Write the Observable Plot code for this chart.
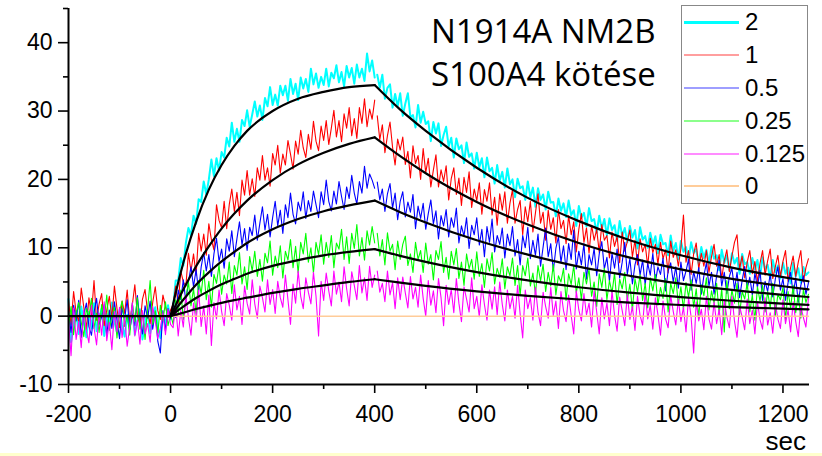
<!DOCTYPE html>
<html>
<head>
<meta charset="utf-8">
<script src="https://cdn.jsdelivr.net/npm/d3@7"></script>
<script src="https://cdn.jsdelivr.net/npm/@observablehq/plot@0.6"></script>
<style>
  html, body { margin: 0; padding: 0; background: #fff; }
  #wrap { position: relative; width: 822px; height: 456px; overflow: hidden; }
  #chart svg { display: block; overflow: visible; }
  .title { position: absolute; left: 431px; top: 9px; font-family: "Open Sans", sans-serif; font-size: 33px; line-height: 43px; color: #000; white-space: nowrap; }
  .unit { position: absolute; right: 16px; top: 427px; font-family: "Liberation Sans", Arial, sans-serif; font-size: 26px; line-height: 29px; height: 29px; color: #000; }
  .legend { position: absolute; left: 681px; top: 5px; width: 125px; border: 1px solid #888; background: #fff; }
  .legend .row { height: 32.8px; display: flex; align-items: center; font-family: "Liberation Sans", Arial, sans-serif; font-size: 24px; color: #000; }
  .legend .sw { width: 55px; margin-left: 2px; margin-right: 6px; }
  .band { position: absolute; left: 0; top: 453px; width: 822px; height: 3px; background: #FFFFCC; }
</style>
</head>
<body>
<div id="wrap">
  <div id="chart"></div>
  <div class="title">N1914A NM2B<br>S100A4 kötése</div>
  <div class="legend" id="legend"></div>
  <div class="band"></div>
  <div class="unit">sec</div>
</div>
<script>
// ---- data (sampled every 5 s) ----
const step = 5;
const preStart = -200;   // pre arrays: -200 .. 400 s
const postStart = 405;   // post arrays: 405 .. 1250 s

const concentrations = ["2", "1", "0.5", "0.25", "0.125", "0"];

const cyanPre = [
 2.5,-3.8,-1.2,0.8,-2.6,1.4,-0.9,-3.1,0.6,-1.8,
 1.9,-2.2,-0.4,1.1,-2.9,0.3,-1.6,2.0,-0.8,-2.4,
 0.9,-1.3,-3.0,0.2,-1.9,1.5,-2.7,-0.6,1.0,-3.4,
 -1.1,0.7,-2.5,-0.2,1.3,-1.7,-3.2,0.4,-1.4,1.6,
 -0.5,1.2,5.2,5.2,8.5,7.4,10.7,12.9,11.8,14.7,
 13.5,17.1,16.7,19.7,17.8,20.0,22.9,20.5,23.1,21.3,
 24.0,23.2,26.1,24.8,28.3,25.5,27.4,25.5,28.7,27.8,
 30.1,27.7,29.5,31.4,29.2,30.8,28.7,31.9,30.7,33.5,
 30.9,32.4,30.8,33.7,32.3,33.7,31.5,34.7,32.5,34.0,
 31.6,34.9,33.3,34.7,32.8,36.2,33.9,35.5,33.4,35.0,
 33.8,36.2,33.6,35.6,34.8,36.7,34.2,35.7,33.6,36.6,
 34.9,36.3,34.0,36.8,34.9,36.2,34.4,38.4,35.8,37.4,
 34.9];
const cyanPost = [
 35.3,33.4,35.3,31.8,33.4,33.9,30.5,32.5,30.7,32.6,
 29.3,31.1,32.6,29.1,29.4,27.6,30.9,28.3,29.9,28.1,
 28.5,25.6,28.4,26.7,28.2,24.9,26.5,27.7,24.8,26.1,
 23.2,26.0,24.4,25.0,22.4,25.4,23.3,23.8,21.6,23.9,
 21.8,23.1,20.3,23.2,21.2,21.7,19.4,22.1,19.8,21.1,
 18.8,21.6,19.3,20.0,17.4,20.1,18.7,19.0,17.0,19.7,
 17.4,18.8,16.0,18.7,17.0,17.8,15.6,18.2,16.6,16.7,
 14.6,17.2,15.4,16.5,14.5,16.9,14.8,15.5,13.2,16.1,
 14.4,15.1,13.1,15.8,13.9,14.2,12.2,14.7,12.8,14.2,
 11.8,14.3,12.6,13.3,11.0,13.9,11.7,12.9,10.8,13.2,
 11.5,12.6,9.9,13.0,11.2,11.7,10.0,12.2,10.4,11.7,
 9.2,11.9,10.5,10.7,8.9,11.8,9.5,10.7,8.3,11.0,
 9.4,10.1,8.2,10.8,9.2,9.8,7.6,10.1,8.5,9.7,
 7.6,10.2,8.4,8.9,6.7,9.7,7.8,8.9,6.7,9.2,
 7.7,8.5,6.2,9.1,7.6,7.9,6.2,8.5,6.8,8.2,
 5.7,8.6,6.9,7.5,5.5,8.2,6.4,7.4,5.5,7.8,
 6.2,7.1,4.8,7.8,5.8,7.0,4.9,7.2,6.0,6.4];

const redPre = [
 2.4,-1.2,3.6,0.5,-0.8,4.1,1.3,-1.9,2.7,0.2,
 5.2,-0.6,1.8,3.3,-1.4,0.9,2.9,-0.3,4.4,1.1,
 -1.7,2.2,0.4,3.8,-0.9,1.6,4.6,0.1,-1.3,2.5,
 3.9,0.6,-1.1,2.0,4.3,0.8,-0.5,3.1,1.4,-0.2,
 0.9,1.7,4.4,1.7,6.6,5.0,4.4,9.2,6.6,9.1,
 6.0,12.1,9.5,12.0,8.9,13.5,11.2,9.7,16.3,14.0,
 12.9,16.8,12.8,16.3,18.6,15.3,18.1,14.7,19.9,17.7,
 21.3,17.7,20.1,17.5,21.7,19.9,23.5,19.9,21.7,19.0,
 23.8,22.1,25.0,20.9,23.7,22.1,25.7,23.7,21.5,25.6,
 23.7,27.2,24.6,23.2,26.6,24.4,28.5,25.6,24.2,27.8,
 25.7,28.6,25.1,27.5,30.1,26.2,28.6,25.5,29.6,27.5,
 30.5,26.4,28.9,26.0,30.5,28.2,31.8,27.7,30.3,28.8,
 31.6];
const redPost = [
 29.3,25.8,28.0,23.9,26.4,28.4,24.7,22.1,25.9,24.3,
 26.2,22.2,24.1,20.2,24.9,22.3,23.5,20.0,24.5,21.0,
 23.1,18.9,21.4,23.6,18.9,21.4,19.7,22.0,17.0,20.1,
 21.7,17.8,20.2,16.2,20.3,18.1,21.1,15.9,18.6,16.9,
 19.5,14.9,18.5,16.8,19.5,14.8,17.4,13.3,17.9,15.5,
 18.2,13.6,16.5,18.5,13.6,15.6,16.9,11.9,16.0,13.8,
 16.8,12.3,15.1,17.9,13.6,15.2,11.1,15.5,12.7,14.4,
 10.7,15.6,12.8,14.0,10.6,14.7,11.9,13.8,9.4,12.7,
 15.0,10.8,12.9,9.2,13.3,11.1,12.7,9.3,13.4,11.1,
 11.8,8.5,12.3,10.2,11.7,7.8,12.3,9.5,10.9,12.6,
 8.7,11.1,7.5,11.3,9.4,10.5,7.3,11.4,9.3,10.5,
 7.6,10.8,8.4,9.7,6.3,11.0,8.6,9.7,7.3,9.9,
 14.8,7.9,9.6,6.1,9.1,10.7,6.9,9.2,7.3,9.6,
 6.4,8.7,10.5,7.3,9.0,5.5,8.1,9.7,6.5,8.8,
 10.8,11.9,6.9,8.8,5.6,7.9,9.6,6.2,8.0,5.0,
 7.7,9.6,6.0,8.1,9.8,5.5,7.2,8.9,5.8,8.0,
 9.6,5.1,7.1,8.8,5.8,7.9,9.6,5.0,7.1,8.4];

const bluePre = [
 0.8,-2.4,1.6,-0.7,2.3,-3.1,0.2,1.9,-1.5,-2.8,
 0.5,2.6,-1.2,-0.1,1.7,-2.9,0.9,-1.8,2.1,-0.6,
 -3.3,1.2,-0.4,2.4,-2.0,0.3,-1.4,3.0,-0.9,-2.6,
 1.5,-0.3,2.2,-1.9,0.6,-3.7,-5.4,0.8,-2.2,1.1,
 -0.4,1.9,-0.2,3.8,2.4,5.3,2.1,5.0,7.2,4.3,
 6.8,3.6,7.2,9.3,6.6,9.0,5.8,9.1,11.4,8.0,
 9.8,7.0,11.3,9.5,12.5,8.7,11.3,13.8,10.4,12.8,
 9.6,13.0,11.8,14.8,11.1,13.6,16.0,12.6,14.9,11.6,
 14.4,16.8,13.2,15.5,12.1,16.3,14.4,18.0,14.9,13.5,
 16.7,15.4,18.2,14.3,16.9,15.3,18.3,16.3,14.4,18.2,
 16.3,19.9,16.8,15.4,18.3,16.4,19.7,17.5,15.6,18.9,
 17.2,20.6,18.0,16.4,19.7,18.0,21.9,18.7,20.8,19.9,
 18.7];
const bluePost = [
 19.6,17.0,18.6,15.3,17.9,19.4,15.8,18.0,14.1,16.8,
 18.2,14.5,16.7,15.2,17.8,12.8,16.1,14.3,16.5,12.7,
 15.0,17.0,13.5,15.4,11.3,14.7,13.2,15.6,11.6,14.4,
 13.0,15.8,10.7,13.2,11.7,14.4,9.9,13.3,11.9,14.4,
 10.4,12.7,8.7,13.1,10.8,14.2,9.4,11.8,10.5,12.9,
 8.5,12.0,10.3,13.1,8.8,11.2,7.5,11.8,10.0,13.0,
 8.4,11.1,8.9,12.0,7.3,10.1,12.9,8.7,10.6,6.6,
 9.9,11.6,7.9,10.3,6.8,10.6,8.3,12.6,6.9,9.5,
 7.5,10.6,5.4,9.0,7.5,9.9,5.9,9.1,10.9,6.9,
 8.6,5.1,9.2,7.0,9.8,5.6,7.9,10.8,6.1,8.4,
 4.7,7.5,9.0,6.0,8.2,4.6,7.7,6.0,9.2,5.0,
 7.2,6.1,8.5,3.7,6.6,7.8,5.0,7.2,4.1,7.9,
 5.2,6.6,8.3,3.8,6.5,4.8,7.1,3.2,5.9,7.8,
 4.4,6.4,3.2,5.9,8.2,4.4,6.4,3.3,5.8,7.0,
 3.9,6.4,2.7,5.2,7.3,4.1,5.7,3.1,6.3,4.2,
 6.7,2.3,5.1,3.6,6.2,2.8,5.4,7.2,3.8,5.5,
 2.3,4.9,6.4,3.2,5.6,2.0,4.5,5.9,3.2,4.9];

const greenPre = [
 -1.6,1.4,-2.7,0.3,2.0,-0.9,-3.0,1.1,-0.2,2.6,
 -1.8,0.4,-2.4,1.7,-0.6,3.1,-2.1,-0.1,1.3,-3.2,
 0.7,2.2,-1.5,0.1,-2.8,1.9,-0.8,2.7,-1.9,0.5,
 -3.4,1.0,5.2,-1.2,0.8,-2.5,1.6,-0.7,2.1,-1.4,
 0.3,-1.2,2.4,0.5,3.8,-0.5,2.6,5.0,1.5,4.0,
 0.4,5.2,3.3,6.7,2.4,5.1,1.3,6.1,4.8,7.5,
 3.2,6.0,4.7,7.9,3.3,7.4,6.0,9.3,4.7,7.2,
 3.9,8.7,6.6,9.5,5.8,8.3,5.1,9.2,7.8,11.0,
 6.0,8.8,7.1,10.3,5.6,9.5,8.2,11.2,7.1,10.2,
 6.3,10.8,9.1,12.1,7.9,10.0,6.3,10.8,9.0,11.9,
 7.6,10.8,8.6,11.8,7.1,10.7,9.8,12.7,8.3,11.6,
 7.7,12.1,9.9,13.4,8.8,11.5,8.2,12.5,10.4,13.1,
 10.7];
const greenPost = [
 12.1,8.8,11.2,7.5,12.2,9.5,10.5,6.8,11.0,8.3,
 10.5,11.7,7.4,9.1,6.4,10.8,8.3,9.6,6.4,10.7,
 7.6,9.0,5.3,9.6,8.3,10.9,6.4,8.6,5.4,9.5,
 7.5,9.9,5.5,7.9,4.5,9.1,6.9,8.3,5.4,9.4,
 5.8,7.7,4.2,8.4,6.6,9.3,4.7,7.0,5.7,8.4,
 4.0,7.2,5.9,8.5,4.5,7.4,3.0,7.4,5.9,8.5,
 4.4,6.3,3.2,7.4,5.1,7.6,3.6,6.4,4.4,7.6,
 3.1,5.9,5.0,7.0,2.3,6.2,4.6,7.4,3.4,5.6,
 2.4,6.4,4.7,6.9,2.9,5.0,1.4,6.2,4.2,7.0,
 2.4,5.2,3.4,6.3,1.7,5.4,4.0,6.4,2.3,4.7,
 0.8,5.5,3.5,6.0,2.3,4.8,1.2,5.6,3.7,6.1,
 1.6,4.2,2.6,5.5,0.6,4.8,3.3,5.6,1.7,4.3,
 1.0,4.9,2.8,5.3,1.3,4.0,-0.2,4.6,3.0,5.6,
 0.9,3.7,1.9,4.8,0.3,4.1,-2.3,5.2,1.1,3.8,
 1.9,4.8,0.2,3.6,2.5,4.9,0.6,3.1,-0.6,4.3,
 2.2,4.5,0.6,3.6,1.2,4.8,0.0,3.2,2.4,4.2,
 -0.5,3.6,1.2,4.5,0.5,3.2,-0.3,3.9,2.0,3.2];

const magentaPre = [
 -0.5,-5.8,1.2,-3.4,-0.8,-4.6,0.9,-2.1,-3.9,1.6,
 -1.7,-4.2,0.4,-2.8,2.1,-3.6,-0.9,-4.9,0.7,-2.3,
 1.3,-3.1,-0.2,-4.4,-1.5,2.0,-2.9,-0.6,-4.1,0.8,
 -2.6,-1.1,-3.8,1.4,-0.7,-3.3,-1.8,0.5,-2.7,1.0,
 -1.2,-1.7,1.7,-2.9,0.8,-1.6,3.0,-0.2,-2.8,1.9,
 -0.9,3.8,-1.5,1.5,-2.6,3.1,-4.3,2.0,-0.4,3.8,
 0.7,-1.4,3.3,1.6,-0.6,4.6,0.9,2.9,-1.2,4.4,
 1.9,0.3,5.3,1.8,-0.3,4.4,2.7,0.6,5.3,1.7,
 3.9,0.4,5.1,2.7,1.3,6.0,2.4,-1.2,4.7,1.9,
 6.6,2.9,1.1,5.6,3.5,1.8,6.4,2.9,-2.9,5.1,
 2.3,6.3,3.7,1.5,6.6,3.2,5.0,2.1,7.2,4.0,
 1.5,6.5,4.5,2.4,7.4,3.4,5.6,2.3,7.3,4.2,
 6.0];
const magentaPost = [
 6.6,3.5,4.8,2.1,6.6,3.1,4.9,1.1,5.6,2.4,
 5.7,3.4,1.2,5.8,2.5,4.2,1.3,6.0,2.6,0.0,
 5.2,1.6,3.7,0.5,5.5,2.7,-1.4,4.5,1.7,3.9,
 0.5,5.5,1.9,-0.8,4.3,2.5,0.6,5.6,1.1,2.9,
 -0.1,4.6,1.7,-0.6,3.8,1.0,4.3,0.2,5.0,1.7,
 -0.7,3.8,1.1,2.9,-0.3,4.5,0.3,-3.2,3.8,1.1,
 2.7,-0.6,4.2,0.6,-1.4,3.5,1.4,-0.3,4.2,0.1,
 2.2,-1.8,3.6,0.8,-0.8,3.1,0.1,-2.6,3.7,0.9,
 -0.7,3.3,0.2,1.9,-1.6,3.7,0.6,-2.6,2.7,-0.4,
 1.9,-1.4,3.7,0.1,-2.2,2.8,0.8,-1.4,3.2,-0.5,
 1.4,-2.1,2.9,0.1,-1.3,3.4,-0.4,1.6,-1.9,2.7,
 0.2,-2.8,2.2,-0.4,-1.7,3.0,0.7,-1.3,2.5,-0.8,
 1.3,-2.3,2.7,-0.1,-5.4,2.1,-0.7,1.0,-2.0,2.9,
 -0.4,-1.9,2.1,-1.1,1.0,-2.7,2.4,-0.1,-1.7,2.9,
 -0.7,-3.1,1.5,-0.1,-2.0,2.5,-1.1,0.9,-2.6,2.1,
 -0.5,-1.9,2.7,-1.3,0.5,-2.5,1.9,-0.4,-1.8,2.4,
 -1.1,0.9,-2.3,2.1,-0.8,-3.0,1.5,-0.2,-1.6,2.7];

// "0" trace: flat zero
const zeroT = [0, 1250];
const zeroV = [0, 0];

// fitted curves (black)
const fitBaseT = [-200, 0];
const fitBaseV = [0, 0];
const fitAssocT = [0, 10, 25, 50, 75, 100, 125, 150, 200, 250, 300, 350, 400];
const fitDissT = [400, 450, 500, 600, 700, 800, 900, 1000, 1100, 1200, 1250];
const fitAssoc = [
 [0, 3.4, 7.8, 13.8, 18.5, 22.1, 24.9, 27.1, 30.0, 31.8, 32.8, 33.5, 33.8],
 [0, 1.6, 3.9, 7.3, 10.2, 12.8, 15.0, 16.9, 19.9, 22.2, 23.9, 25.2, 26.15],
 [0, 1.0, 2.4, 4.6, 6.4, 8.0, 9.4, 10.7, 12.7, 14.2, 15.35, 16.2, 16.9],
 [0, 0.6, 1.4, 2.65, 3.7, 4.65, 5.45, 6.2, 7.35, 8.2, 8.9, 9.4, 9.8],
 [0, 0.2, 0.5, 1.05, 1.5, 1.95, 2.35, 2.7, 3.4, 4.0, 4.5, 5.0, 5.4]
];
const fitDiss = [
 [33.8, 30.2, 27.1, 21.7, 17.3, 13.9, 11.1, 8.9, 7.1, 5.7, 5.1],
 [26.15, 23.4, 20.9, 16.7, 13.4, 10.7, 8.55, 6.83, 5.46, 4.37, 3.91],
 [16.9, 15.2, 13.7, 11.1, 9.0, 7.25, 5.9, 4.75, 3.84, 3.11, 2.8],
 [9.8, 8.82, 7.94, 6.44, 5.22, 4.23, 3.43, 2.78, 2.25, 1.83, 1.64],
 [5.4, 4.89, 4.42, 3.62, 2.96, 2.43, 1.99, 1.63, 1.33, 1.09, 0.99]
];

const xMajor = [-200, 0, 200, 400, 600, 800, 1000, 1200];
const xMinor = [-100, 100, 300, 500, 700, 900, 1100];
const yMajor = [-10, 0, 10, 20, 30, 40];
const yMinor = [-5, 5, 15, 25, 35, 45];

// ---- styles ----
const traceColors = ["#00FFFF", "#FF0000", "#0000FF", "#00FF00", "#FF00FF"];
const traceWidths = [2, 1.1, 1.1, 1.1, 1.1];
const legendColors = ["#00FFFF", "#FF9E9E", "#9E9EFF", "#8CFF8C", "#FF8CFF", "#FFCC99"];
const legendWidths = [3, 2, 2, 2, 2, 2];

const pre = [cyanPre, redPre, bluePre, greenPre, magentaPre];
const post = [cyanPost, redPost, bluePost, greenPost, magentaPost];

const toRows = (vals, start, key) => vals.map((v, i) => ({t: start + step * i, v, key}));
const pairRows = (ts, vs, key) => ts.map((t, i) => ({t, v: vs[i], key}));

const traceMarks = pre.map((p, k) => Plot.line(
  [...toRows(p, preStart, k + "a"), ...toRows(post[k], postStart, k + "b")],
  {x: "t", y: "v", z: "key", stroke: traceColors[k], strokeWidth: traceWidths[k], strokeLinejoin: "round"}
));

const fitRows = [
  ...pairRows(fitBaseT, fitBaseV, "base"),
  ...fitAssoc.flatMap((vs, k) => pairRows(fitAssocT, vs, "a" + k)),
  ...fitDiss.flatMap((vs, k) => pairRows(fitDissT, vs, "d" + k))
];

const fmt = d => String(d);

const chart = Plot.plot({
  width: 822,
  height: 456,
  marginLeft: 68,
  marginRight: 13,
  marginTop: 8,
  marginBottom: 72,
  style: {fontFamily: "'Liberation Sans', Arial, sans-serif", fontSize: "23px", background: "transparent", color: "#000"},
  x: {domain: [-200, 1252]},
  y: {domain: [-10, 45]},
  marks: [
    ...traceMarks,
    Plot.line(pairRows(zeroT, zeroV, "z"), {x: "t", y: "v", stroke: "#FFCC99", strokeWidth: 1.5}),
    Plot.line(fitRows, {x: "t", y: "v", z: "key", stroke: "#000", strokeWidth: 2.2, curve: "monotone-x"}),
    Plot.axisX({ticks: xMajor, tickSize: 9, tickPadding: 12, tickFormat: fmt, fontSize: 23, strokeWidth: 1.6, label: null}),
    Plot.axisX({ticks: xMinor, tickSize: 5, tickFormat: () => "", strokeWidth: 1.6, label: null}),
    Plot.axisY({ticks: yMajor, tickSize: 10, tickPadding: 6, tickFormat: fmt, fontSize: 23, strokeWidth: 1.6, label: null}),
    Plot.axisY({ticks: yMinor, tickSize: 5, tickFormat: () => "", strokeWidth: 1.6, label: null}),
    Plot.ruleX([-200], {stroke: "#000", strokeWidth: 2}),
    Plot.ruleY([-10], {stroke: "#000", strokeWidth: 2})
  ]
});
document.getElementById("chart").appendChild(chart);

// legend
const legend = document.getElementById("legend");
concentrations.forEach((c, i) => {
  const row = document.createElement("div");
  row.className = "row";
  const sw = document.createElement("div");
  sw.className = "sw";
  sw.style.borderTop = legendWidths[i] + "px solid " + legendColors[i];
  const lab = document.createElement("span");
  lab.textContent = c;
  row.appendChild(sw);
  row.appendChild(lab);
  legend.appendChild(row);
});
</script>
</body>
</html>
